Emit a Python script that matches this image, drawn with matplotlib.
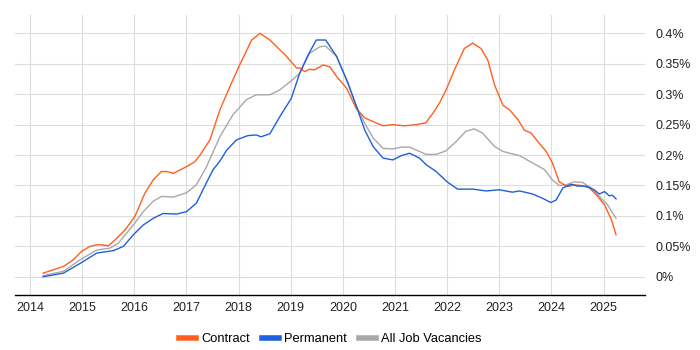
import matplotlib
matplotlib.use("Agg")
import matplotlib.pyplot as plt
from matplotlib.ticker import FuncFormatter

CONTRACT = "#ff5f1f"
PERM = "#1f5fe0"
ALL = "#a8a8a8"
GRID = "#dddddd"

# ── data ──────────────────────────────────────────────────────
contract_x = [2014.25, 2014.64, 2014.83, 2014.99, 2015.15, 2015.31, 2015.5, 2015.6,
              2015.82, 2016.01, 2016.2, 2016.36, 2016.52, 2016.62, 2016.75, 2017.0,
              2017.16, 2017.26, 2017.45, 2017.64, 2017.83, 2018.02, 2018.25, 2018.41,
              2018.6, 2018.73, 2018.92, 2019.11, 2019.17, 2019.27, 2019.36, 2019.46,
              2019.62, 2019.75, 2019.88, 2020.07, 2020.26, 2020.42, 2020.58, 2020.77,
              2020.96, 2021.18, 2021.41, 2021.59, 2021.73, 2021.85, 2021.98, 2022.14,
              2022.33, 2022.49, 2022.65, 2022.78, 2022.91, 2023.07, 2023.2, 2023.36,
              2023.48, 2023.61, 2023.77, 2023.9, 2024.02, 2024.15, 2024.31, 2024.44,
              2024.57, 2024.73, 2024.89, 2025.02, 2025.15, 2025.24]
contract_y = [0.006, 0.017, 0.028, 0.042, 0.050, 0.053, 0.051, 0.058,
              0.077, 0.099, 0.137, 0.159, 0.173, 0.173, 0.170, 0.181,
              0.189, 0.200, 0.225, 0.274, 0.312, 0.348, 0.389, 0.400,
              0.389, 0.378, 0.362, 0.343, 0.343, 0.337, 0.341, 0.340,
              0.348, 0.345, 0.329, 0.310, 0.276, 0.261, 0.255, 0.248,
              0.250, 0.248, 0.250, 0.253, 0.269, 0.285, 0.307, 0.340,
              0.375, 0.384, 0.375, 0.356, 0.315, 0.282, 0.274, 0.258,
              0.241, 0.236, 0.219, 0.206, 0.187, 0.156, 0.148, 0.151,
              0.150, 0.146, 0.132, 0.118, 0.094, 0.069]

perm_x = [2014.25, 2014.64, 2014.96, 2015.28, 2015.6, 2015.79, 2015.98, 2016.17,
          2016.36, 2016.55, 2016.81, 2017.0, 2017.19, 2017.38, 2017.51, 2017.64,
          2017.77, 2017.96, 2018.18, 2018.34, 2018.43, 2018.6, 2018.79, 2019.01,
          2019.17, 2019.33, 2019.49, 2019.67, 2019.88, 2019.94, 2020.1, 2020.26,
          2020.42, 2020.58, 2020.77, 2020.96, 2021.12, 2021.28, 2021.47, 2021.6,
          2021.79, 2021.95, 2022.0, 2022.2, 2022.5, 2022.75, 2023.0, 2023.25,
          2023.39, 2023.64, 2023.83, 2023.99, 2024.09, 2024.22, 2024.38, 2024.5,
          2024.66, 2024.82, 2024.92, 2025.02, 2025.11, 2025.17, 2025.24]
perm_y = [0.000, 0.006, 0.022, 0.039, 0.043, 0.050, 0.069, 0.085,
          0.096, 0.104, 0.103, 0.107, 0.121, 0.154, 0.176, 0.190,
          0.208, 0.225, 0.232, 0.233, 0.230, 0.235, 0.263, 0.293,
          0.334, 0.364, 0.389, 0.389, 0.362, 0.350, 0.318, 0.280,
          0.241, 0.214, 0.195, 0.192, 0.199, 0.203, 0.195, 0.184,
          0.173, 0.160, 0.156, 0.144, 0.144, 0.141, 0.143, 0.139,
          0.141, 0.136, 0.129, 0.122, 0.126, 0.146, 0.152, 0.149,
          0.149, 0.143, 0.136, 0.140, 0.133, 0.134, 0.128]

all_x = [2014.25, 2014.64, 2014.96, 2015.28, 2015.53, 2015.69, 2015.98, 2016.17,
         2016.36, 2016.52, 2016.75, 2017.0, 2017.19, 2017.38, 2017.64, 2017.89,
         2018.15, 2018.34, 2018.6, 2018.79, 2019.01, 2019.17, 2019.36, 2019.56,
         2019.67, 2019.88, 2020.07, 2020.26, 2020.42, 2020.58, 2020.77, 2020.96,
         2021.12, 2021.28, 2021.44, 2021.6, 2021.79, 2021.98, 2022.17, 2022.36,
         2022.52, 2022.68, 2022.91, 2023.07, 2023.2, 2023.39, 2023.64, 2023.87,
         2024.02, 2024.15, 2024.28, 2024.44, 2024.6, 2024.76, 2024.92, 2025.08,
         2025.24]
all_y = [0.002, 0.009, 0.028, 0.044, 0.047, 0.055, 0.085, 0.107,
         0.124, 0.132, 0.131, 0.138, 0.151, 0.180, 0.230, 0.266,
         0.291, 0.299, 0.299, 0.307, 0.322, 0.334, 0.367, 0.378,
         0.379, 0.362, 0.323, 0.280, 0.252, 0.228, 0.211, 0.210,
         0.213, 0.213, 0.207, 0.201, 0.201, 0.207, 0.222, 0.239,
         0.243, 0.236, 0.214, 0.206, 0.203, 0.199, 0.187, 0.176,
         0.159, 0.150, 0.151, 0.156, 0.155, 0.146, 0.132, 0.118,
         0.096]

years = list(range(2014, 2026))
yticks = [0, 0.05, 0.1, 0.15, 0.2, 0.25, 0.3, 0.35, 0.4]

plt.rcParams["font.family"] = ["Liberation Sans", "DejaVu Sans"]

fig = plt.figure(figsize=(7, 3.5), dpi=100)
ax = fig.add_axes([0.0214, 0.157, 0.8996, 0.8])

ax.plot(contract_x, contract_y, color=CONTRACT, lw=1.0, label="Contract", zorder=3)
ax.plot(perm_x, perm_y, color=PERM, lw=1.0, label="Permanent", zorder=4)
ax.plot(all_x, all_y, color=ALL, lw=1.0, label="All Job Vacancies", zorder=2)

ax.set_xlim(2013.71, 2025.79)
ax.set_ylim(-0.03, 0.43)
ax.set_xticks(years)
ax.set_yticks(yticks)
ax.yaxis.tick_right()
ax.yaxis.set_major_formatter(FuncFormatter(lambda v, _: f"{v:g}%"))
ax.tick_params(axis="y", length=0, pad=8, labelsize=9, colors="#222222")
ax.tick_params(axis="x", length=0, pad=5, labelsize=9, colors="#222222")
ax.grid(True, color=GRID, lw=0.8)
ax.set_axisbelow(True)
for s in ("left", "right", "top"):
    ax.spines[s].set_visible(False)
ax.spines["bottom"].set_color("#000000")
ax.spines["bottom"].set_linewidth(1)

leg = fig.legend(loc="lower center", bbox_to_anchor=(0.472, -0.02), ncol=3,
                 frameon=False, fontsize=9.3, handlelength=1.3,
                 handletextpad=0.45, columnspacing=0.9)
for h in leg.legend_handles:
    h.set_linewidth(4)

fig.savefig("out.png", dpi=100)
